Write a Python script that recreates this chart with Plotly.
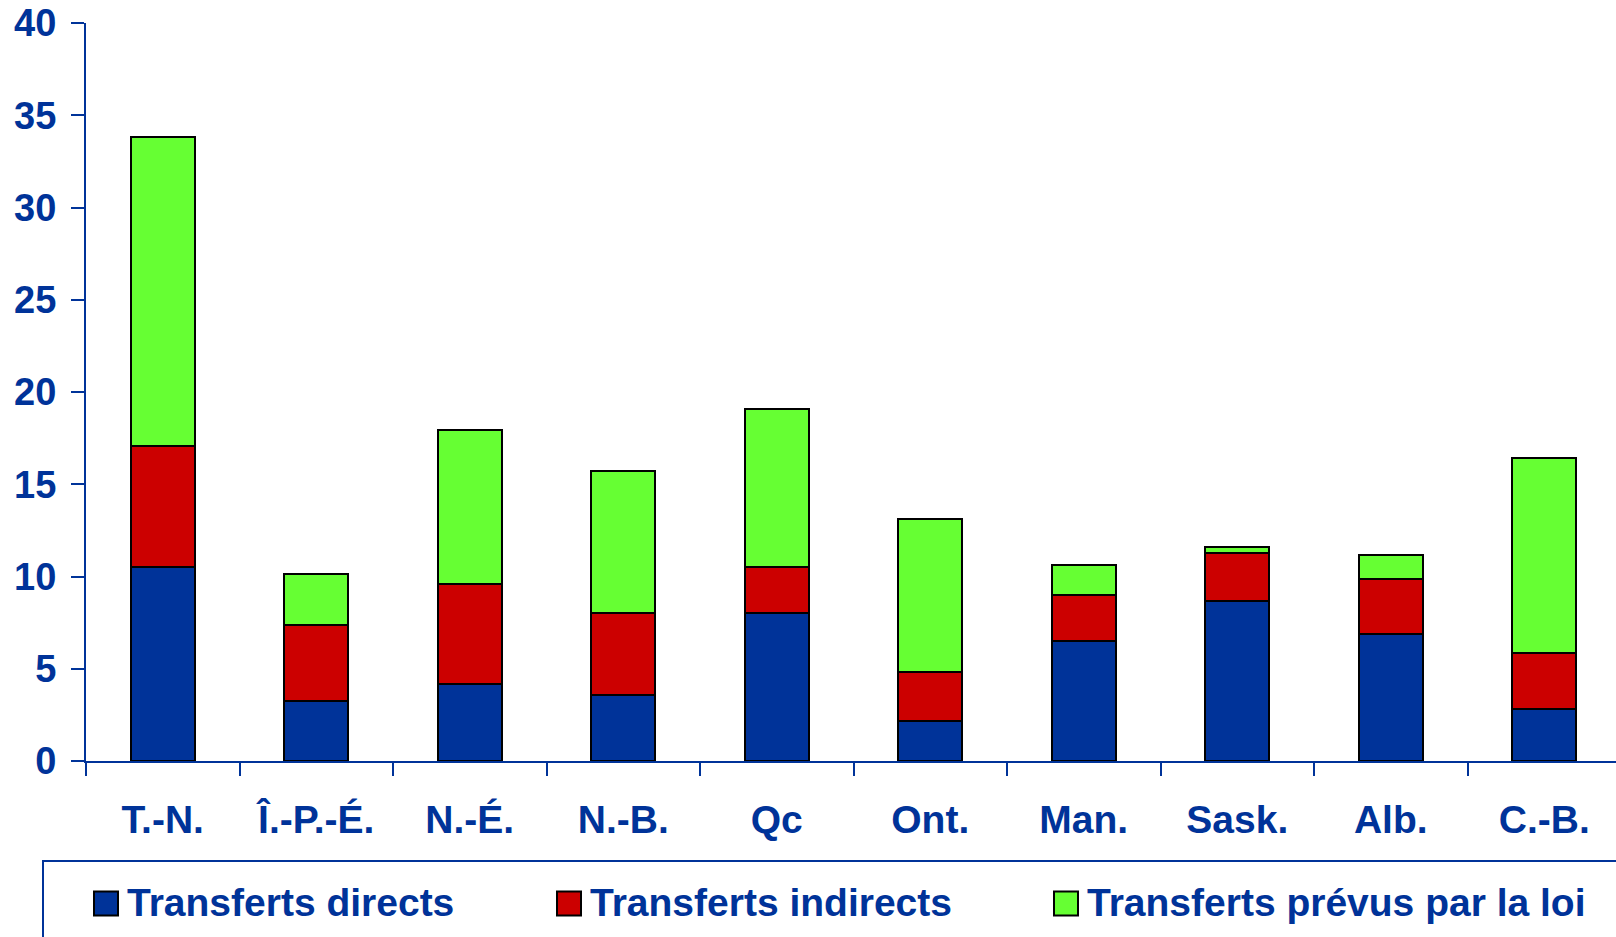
import plotly.graph_objects as go

categories = ["T.-N.", "Î.-P.-É.", "N.-É.", "N.-B.", "Qc", "Ont.", "Man.", "Sask.", "Alb.", "C.-B."]
direct = [10.5, 3.25, 4.2, 3.6, 8.0, 2.15, 6.5, 8.65, 6.9, 2.8]
indirect = [6.6, 4.1, 5.4, 4.4, 2.5, 2.7, 2.5, 2.6, 2.95, 3.05]
statutory = [16.7, 2.8, 8.35, 7.7, 8.6, 8.25, 1.6, 0.35, 1.3, 10.6]
series_names = ["Transferts directs", "Transferts indirects", "Transferts prévus par la loi"]
y_ticks = [0, 5, 10, 15, 20, 25, 30, 35, 40]

BLUE = "#003399"
RED = "#CC0000"
GREEN = "#66FF33"
AXIS = "#003399"
FONT = "Arial, Liberation Sans, sans-serif"

W, H = 1616, 937
ML, MR = 86, 0
MT = 22.7
MB = H - 760.6
PW = W - ML - MR
PH = H - MT - MB

def px_x(sx):
    return (sx - ML) / PW

def px_y(sy):
    return (H - MB - sy) / PH

fig = go.Figure()
for name, vals, col in zip(series_names, [direct, indirect, statutory], [BLUE, RED, GREEN]):
    fig.add_trace(go.Bar(
        x=categories, y=vals, name=name,
        marker=dict(color=col, line=dict(color="black", width=2)),
        width=0.42, showlegend=False,
    ))

fig.update_layout(
    width=W, height=H,
    barmode="stack",
    paper_bgcolor="white", plot_bgcolor="white",
    margin=dict(l=ML, r=MR, t=MT, b=MB, pad=0, autoexpand=False),
    font=dict(family=FONT, color=AXIS),
    xaxis=dict(
        range=[-0.5, -0.5 + PW / 153.5], automargin=False,
        showline=True, linecolor=AXIS, linewidth=2,
        ticks="outside", tickson="boundaries", ticklen=13, tickwidth=2, tickcolor=AXIS,
        tickfont=dict(family=FONT, size=39, color=AXIS, weight="bold"),
        ticklabelstandoff=23,
        showgrid=False, zeroline=False,
    ),
    yaxis=dict(
        range=[0, 40], tickvals=y_ticks, automargin=False,
        showline=True, linecolor=AXIS, linewidth=2,
        ticks="outside", ticklen=13, tickwidth=2, tickcolor=AXIS,
        tickfont=dict(family=FONT, size=38, color=AXIS, weight="bold"),
        ticklabelstandoff=7, ticklabeloverflow="allow",
        showgrid=False, zeroline=False,
    ),
)

# legend frame (extends past the page edge as in the reference)
fig.add_shape(type="rect", xref="paper", yref="paper",
              x0=px_x(43), x1=px_x(1720), y0=px_y(860.6), y1=px_y(1000),
              line=dict(color=AXIS, width=2), fillcolor="rgba(0,0,0,0)", layer="above")

legend_sq_x = [94, 557, 1054]
for name, col, sx in zip(series_names, [BLUE, RED, GREEN], legend_sq_x):
    fig.add_shape(type="rect", xref="paper", yref="paper",
                  x0=px_x(sx), x1=px_x(sx + 24), y0=px_y(891), y1=px_y(915),
                  line=dict(color="black", width=2), fillcolor=col)
    fig.add_annotation(xref="paper", yref="paper", x=px_x(sx + 31), y=px_y(902),
                       xanchor="left", yanchor="middle", showarrow=False,
                       text=name, font=dict(family=FONT, size=39, color=AXIS, weight="bold"))

fig.write_html("out.html",
               config={"displayModeBar": False},
               post_script="document.body.style.margin='0';document.body.style.padding='0';document.body.style.overflow='hidden';")
